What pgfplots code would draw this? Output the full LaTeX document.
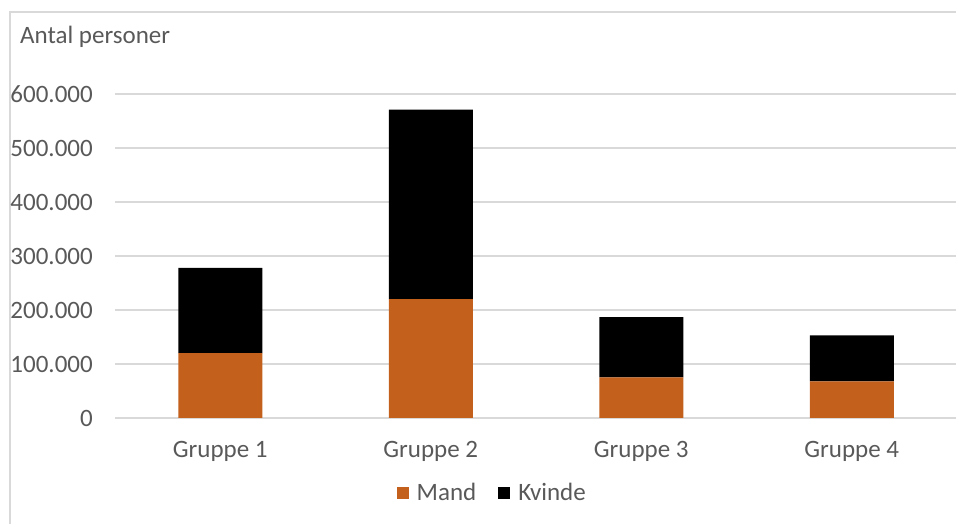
\documentclass[border=0pt]{standalone}
\usepackage{pgfplots}
\pgfplotsset{compat=1.18}
\usepackage{fontspec}
\setmainfont{Carlito}
\definecolor{mand}{HTML}{C2601C}
\definecolor{txt}{HTML}{595959}
\definecolor{gridc}{HTML}{D9D9D9}
\begin{document}
\begin{tikzpicture}[x=1pt,y=1pt]
\path[use as bounding box] (0,0) rectangle (956,524);
\draw[gridc, line width=1.5pt] (10,-5) -- (10,512) -- (970,512);
\node[anchor=west, inner sep=0pt, text=txt, font=\fontsize{25}{30}\selectfont] at (20,487) {Antal personer};
\begin{axis}[
  at={(115pt,106pt)}, anchor=south west,
  scale only axis, width=842pt, height=324pt,
  ybar stacked, bar width=84pt,
  xmin=-0.5, xmax=3.5, ymin=0, ymax=600000,
  enlargelimits=false,
  scaled y ticks=false,
  xtick={0,1,2,3},
  xticklabels={Gruppe 1,Gruppe 2,Gruppe 3,Gruppe 4},
  ytick={0,100000,200000,300000,400000,500000,600000},
  yticklabels={0,100.000,200.000,300.000,400.000,500.000,600.000},
  ymajorgrids, grid style={gridc, line width=1.3pt},
  axis line style={draw=none},
  major tick length=0pt,
  tick label style={font=\fontsize{25}{30}\selectfont, text=txt},
  yticklabel style={inner sep=0pt, anchor=east, xshift=-22pt},
  xticklabel style={inner sep=0pt, anchor=north, yshift=-23pt},
  legend columns=2,
  legend style={at={(0.448,-0.2315)}, anchor=center, draw=none, fill=none,
    font=\fontsize{25}{30}\selectfont, text=txt,
    /tikz/every odd column/.append style={column sep=6pt},
    /tikz/every even column/.append style={column sep=20pt}},
  legend image code/.code={\fill[#1] (0pt,-6pt) rectangle (12pt,6pt);},
]
\addplot[fill=mand, draw=none] coordinates {(0,120000) (1,220000) (2,75000) (3,68000)};
\addplot[fill=black, draw=none] coordinates {(0,158000) (1,351000) (2,112000) (3,85000)};
\legend{Mand,Kvinde}
\end{axis}
\end{tikzpicture}
\end{document}
